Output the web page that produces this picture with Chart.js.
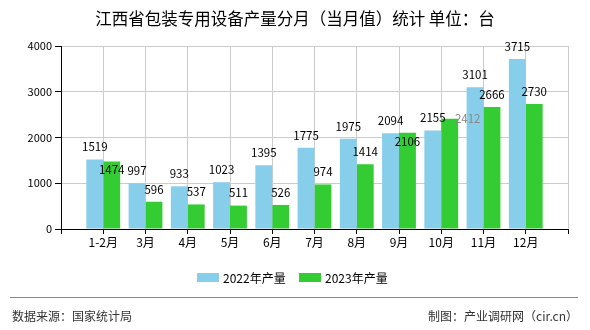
<!DOCTYPE html>
<html>
<script src="https://cdn.jsdelivr.net/npm/chart.js"></script>
<body style="margin:0;background:#fff">
<canvas id="myChart" width="590" height="330"></canvas>

<script>
// monthly output, units: 台
var months = ['1-2月', '3月', '4月', '5月', '6月', '7月', '8月', '9月', '10月', '11月', '12月'];
var prod2022 = [1519, 997, 933, 1023, 1395, 1775, 1975, 2094, 2155, 3101, 3715];
var prod2023 = [1474, 596, 537, 511, 526, 974, 1414, 2106, 2412, 2666, 2730];
var yTicks = [0, 1000, 2000, 3000, 4000];

var titleText = '江西省包装专用设备产量分月（当月值）统计 单位：台';
var sourceText = '数据来源：国家统计局';
var makerText = '制图：产业调研网（cir.cn）';

// label nudges for the 2023 series where the labels collide
var nudge2023 = {0: {dy: 21}, 7: {dy: 21}, 8: {dx: 18, dy: 12.5, color: '#888'}};

var cjk = '"Noto Sans CJK SC", "Noto Sans", sans-serif';

// pad the axis with an empty slot on each end
var labels = [''].concat(months, ['']);
function padData(arr) { return [null].concat(arr, [null]); }

var valueLabels = {
  id: 'valueLabels',
  afterDatasetsDraw: function (chart) {
    var ctx = chart.ctx;
    ctx.save();
    ctx.font = '11.5px ' + cjk;
    ctx.textAlign = 'center';
    ctx.textBaseline = 'middle';
    chart.data.datasets.forEach(function (ds, di) {
      var meta = chart.getDatasetMeta(di);
      meta.data.forEach(function (bar, i) {
        if (ds.data[i] == null) return;
        var n = (di == 1 && nudge2023[i - 1]) || {};
        ctx.fillStyle = n.color || '#000';
        ctx.fillText(ds.data[i], bar.x + (n.dx || 0), bar.y - 12.5 + (n.dy || 0));
      });
    });
    ctx.restore();
  }
};

var decorations = {
  id: 'decorations',
  afterDraw: function (chart) {
    var ctx = chart.ctx;
    ctx.save();
    // title
    ctx.fillStyle = '#000';
    ctx.font = '16.5px ' + cjk;
    ctx.textAlign = 'center';
    ctx.textBaseline = 'middle';
    ctx.fillText(titleText, 295, 19);

    // legend
    ctx.font = '12px ' + cjk;
    ctx.textAlign = 'left';
    var lx = 197;
    chart.data.datasets.forEach(function (ds) {
      ctx.fillStyle = ds.backgroundColor;
      ctx.fillRect(lx, 273, 22, 9);
      ctx.fillStyle = '#000';
      ctx.fillText(ds.label, lx + 26, 278);
      lx += 102;
    });

    // footer
    ctx.strokeStyle = '#888';
    ctx.lineWidth = 1;
    ctx.beginPath();
    ctx.moveTo(10, 297.5);
    ctx.lineTo(578, 297.5);
    ctx.stroke();
    ctx.fillStyle = '#333';
    ctx.font = '12px ' + cjk;
    ctx.textAlign = 'left';
    ctx.fillText(sourceText, 12, 316);
    ctx.textAlign = 'right';
    ctx.fillText(makerText, 578, 316);
    ctx.restore();
  }
};

new Chart('myChart', {
  type: 'bar',
  data: {
    labels: labels,
    datasets: [{
      label: '2022年产量',
      data: padData(prod2022),
      backgroundColor: '#87CEEB',
      categoryPercentage: 0.8,
      barPercentage: 1.0
    }, {
      label: '2023年产量',
      data: padData(prod2023),
      backgroundColor: '#33CC33',
      categoryPercentage: 0.8,
      barPercentage: 1.0
    }]
  },
  options: {
    responsive: false,
    animation: false,
    devicePixelRatio: 1,
    layout: {padding: {top: 46, right: 22, left: 0, bottom: 0}},
    plugins: {
      legend: {display: false},
      title: {display: false},
      tooltip: {enabled: false}
    },
    scales: {
      x: {
        offset: false,
        afterFit: function (s) { s.height = 101; },
        grid: {offset: false, color: '#ccc', tickColor: '#000', tickLength: 5},
        border: {color: '#000', width: 1},
        ticks: {color: '#000', font: {size: 12, family: cjk}, padding: 1, maxRotation: 0, autoSkip: false}
      },
      y: {
        min: 0,
        max: 4000,
        afterFit: function (s) { s.width = 61; },
        afterBuildTicks: function (s) { s.ticks = yTicks.map(function (v) { return {value: v}; }); },
        grid: {color: '#ccc', tickColor: '#000', tickLength: 6},
        border: {color: '#000', width: 1},
        ticks: {
          color: '#000', font: {size: 11, family: cjk}, padding: 3,
          callback: function (v) { return String(v); }
        }
      }
    }
  },
  plugins: [valueLabels, decorations]
});
</script>
</body>
</html>
